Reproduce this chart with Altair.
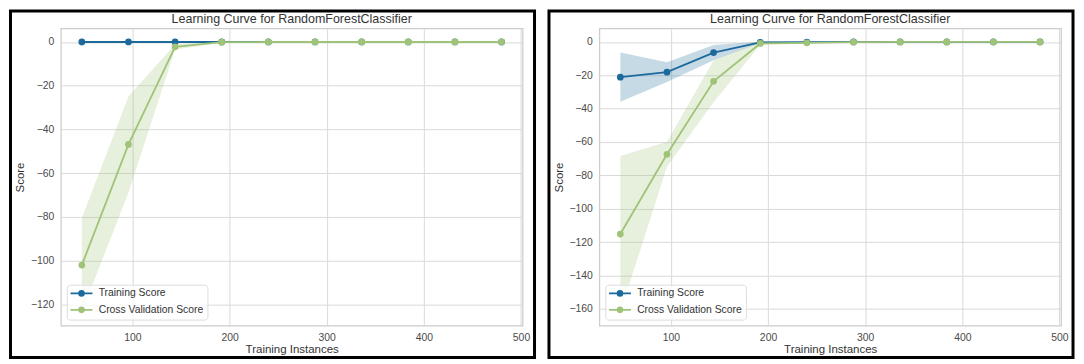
import altair as alt
import pandas as pd

# ---------------- data ----------------
sizes = [48, 96, 144, 192, 240, 288, 336, 384, 432, 480]
series_names = ["Training Score", "Cross Validation Score"]
series_colors = ["#1c6a9c", "#9fc377"]

# left panel
train_mean_a = [0.0, 0.0, 0.0, 0.0, 0.0, 0.0, 0.0, 0.0, 0.0, 0.0]
train_std_a = [0.0, 0.0, 0.0, 0.0, 0.0, 0.0, 0.0, 0.0, 0.0, 0.0]
cv_mean_a = [-102.1, -46.9, -2.2, -0.1, 0.0, 0.0, 0.0, 0.0, 0.0, 0.0]
cv_std_a = [21.5, 22.0, 1.2, 0.2, 0.0, 0.0, 0.0, 0.0, 0.0, 0.0]

# right panel
train_mean_b = [-21.1, -18.1, -6.4, -0.2, -0.1, 0.0, 0.0, 0.0, 0.0, 0.0]
train_std_b = [14.8, 5.9, 4.6, 0.4, 0.2, 0.0, 0.0, 0.0, 0.0, 0.0]
cv_mean_b = [-115.2, -67.4, -23.6, -0.9, -0.5, -0.1, 0.0, 0.0, 0.0, 0.0]
cv_std_b = [46.8, 7.5, 12.5, 0.9, 0.4, 0.1, 0.0, 0.0, 0.0, 0.0]

x_ticks = [100, 200, 300, 400, 500]
x_domain = [26.4, 501.6]
y_ticks_a = [0, -20, -40, -60, -80, -100, -120]
y_ticks_b = [0, -20, -40, -60, -80, -100, -120, -140, -160]
y_domain_a = [-129.8, 6.2]
y_domain_b = [-170.1, 8.1]

title_text = "Learning Curve for RandomForestClassifier"
x_title = "Training Instances"
y_title = "Score"

# ---------------- layout ----------------
W = 463
H = 298
FONT = "Liberation Sans, Arial, sans-serif"

# line-with-marker legend glyph (unit scale = 4 px for symbolSize 64)
legend_path = "M-2.75,0H2.75M0.6,0A0.6,0.6,0,1,1,-0.6,0A0.6,0.6,0,1,1,0.6,0Z"


def make_table(train_mean, train_std, cv_mean, cv_std):
    rows = []
    for name, means, stds in [
        (series_names[0], train_mean, train_std),
        (series_names[1], cv_mean, cv_std),
    ]:
        for x, m, s in zip(sizes, means, stds):
            rows.append({"series": name, "x": x, "mean": m, "lo": m - s, "hi": m + s})
    return pd.DataFrame(rows)


def panel(train_mean, train_std, cv_mean, cv_std, y_domain, y_ticks):
    df = make_table(train_mean, train_std, cv_mean, cv_std)

    x_enc = alt.X(
        "x:Q",
        scale=alt.Scale(domain=x_domain, nice=False, zero=False),
        axis=alt.Axis(values=x_ticks, title=x_title, format="d"),
    )
    y_scale = alt.Scale(domain=y_domain, nice=False, zero=False)
    y_axis = alt.Axis(values=y_ticks, title=y_title, format="d")
    color_scale = alt.Scale(domain=series_names, range=series_colors)

    legend = alt.Legend(
        title=None,
        orient="bottom-left",
        offset=6,
        padding=3.5,
        fillColor="rgba(255,255,255,0.8)",
        strokeColor="#dddddd",
        cornerRadius=3,
        symbolType=legend_path,
        symbolSize=64,
        symbolStrokeWidth=1.8,
        symbolOpacity=1,
        symbolOffset=6,
        labelOffset=12,
        rowPadding=3.5,
        labelFont=FONT,
        labelFontSize=10.4,
        labelColor="#333333",
    )

    base = alt.Chart(df).encode(x=x_enc)

    layers = []
    # confidence bands (drawn first, no legend)
    for name, col in zip(series_names, series_colors):
        band = (
            base.transform_filter(alt.datum.series == name)
            .mark_area(opacity=0.25, color=col)
            .encode(
                y=alt.Y("lo:Q", stack=None, scale=y_scale, axis=y_axis),
                y2="hi:Q",
            )
        )
        layers.append(band)

    for name in series_names:
        sub = base.transform_filter(alt.datum.series == name)
        line = sub.mark_line(strokeWidth=1.8).encode(
            y=alt.Y("mean:Q", scale=y_scale, axis=y_axis),
            color=alt.Color("series:N", scale=color_scale, legend=legend),
        )
        pts = sub.mark_circle(size=46, opacity=1).encode(
            y=alt.Y("mean:Q", scale=y_scale, axis=y_axis),
            color=alt.Color("series:N", scale=color_scale, legend=legend),
        )
        layers += [line, pts]

    frame = (
        alt.Chart(pd.DataFrame({"frame": [0]}))
        .mark_rect(filled=False, stroke="black", strokeWidth=3)
        .encode(
            x=alt.value(-50.5),
            x2=alt.value(W + 12),
            y=alt.value(-17.5),
            y2=alt.value(H + 32),
        )
    )
    layers.append(frame)

    return alt.layer(*layers).properties(
        width=W,
        height=H,
        title=alt.TitleParams(
            title_text,
            font=FONT,
            fontSize=12.5,
            fontWeight="normal",
            color="#333333",
            offset=-16,
            anchor="middle",
            frame="group",
        ),
    )


left = panel(train_mean_a, train_std_a, cv_mean_a, cv_std_a, y_domain_a, y_ticks_a)
right = panel(train_mean_b, train_std_b, cv_mean_b, cv_std_b, y_domain_b, y_ticks_b)

chart = (
    alt.hconcat(left, right, spacing=9)
    .resolve_scale(x="independent", y="independent", color="independent")
    .resolve_legend(color="independent")
    .properties(padding=0, background="white")
    .configure_view(stroke="#cccccc", strokeWidth=1.25)
    .configure_axis(
        grid=True,
        gridColor="#dadada",
        gridWidth=1,
        domain=False,
        ticks=False,
        labelFont=FONT,
        labelFontSize=10.4,
        labelColor="#4a4a4a",
        labelPadding=7,
        titleFont=FONT,
        titleFontSize=11.5,
        titleFontWeight="normal",
        titleColor="#333333",
    )
    .configure_axisX(titlePadding=1)
    .configure_axisY(titlePadding=5)
)

chart.save("out.html", embed_options={"renderer": "svg", "actions": False})
